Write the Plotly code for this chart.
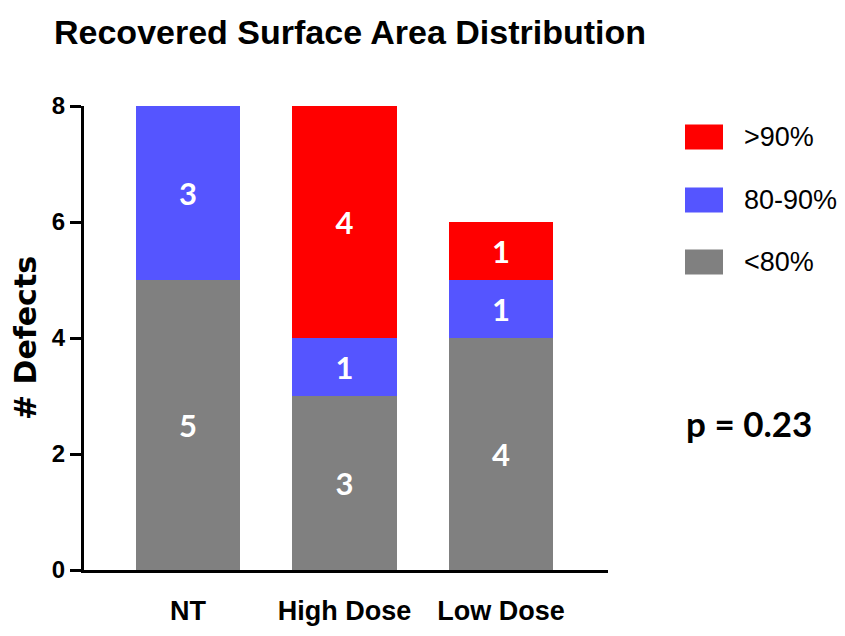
import plotly.graph_objects as go

categories = ["NT", "High Dose", "Low Dose"]
series_names = [">90%", "80-90%", "<80%"]
below80 = [5, 3, 4]
mid80_90 = [3, 1, 1]
above90 = [0, 4, 1]
y_ticks = [0, 2, 4, 6, 8]
colors = {"<80%": "#808080", "80-90%": "#5555FF", ">90%": "#FF0000"}
p_text = "p = 0.23"

# page body has an 8px margin; size the figure so the page fills the window exactly
OFF = 8
W, H = 845 - 2 * OFF, 636 - 2 * OFF
L, R, T, B = 84 - OFF, 608 - OFF, 106 - OFF, 570 - OFF

def fx(px):
    return (px - OFF - L) / (R - L)

def fy(py):
    return (B - (py - OFF)) / (B - T)

sans = "Liberation Sans, Arial, sans-serif"
lab_font = "Lato, Open Sans, sans-serif"

fig = go.Figure()
for name, vals in [("<80%", below80), ("80-90%", mid80_90), (">90%", above90)]:
    fig.add_trace(go.Bar(
        x=categories, y=vals, name=name,
        marker=dict(color=colors[name], line=dict(width=0)),
        text=[str(v) if v else "" for v in vals],
        textposition="inside", insidetextanchor="middle",
        textfont=dict(family=lab_font, size=31, color="white", weight="bold"),
        constraintext="none", width=0.665, showlegend=False,
    ))

fig.update_layout(
    barmode="stack",
    width=W, height=H,
    margin=dict(l=L, r=W - R, t=T, b=H - B, pad=0, autoexpand=False),
    plot_bgcolor="white", paper_bgcolor="white",
    title=dict(text="<b>Recovered Surface Area Distribution</b>", x=(54 - OFF) / W, xanchor="left",
               xref="container", y=1 - (32 - OFF) / H, yanchor="middle", yref="container",
               pad=dict(l=0, r=0, t=0, b=0),
               font=dict(family=sans, size=34, color="black")),
    uniformtext=dict(mode=False),
)
fig.update_xaxes(range=[-0.665, 2.684], showline=True, linecolor="black", linewidth=3,
                 ticks="", showgrid=False, zeroline=False, automargin=False,
                 tickfont=dict(family=sans, size=27, color="black", weight="bold"),
                 ticklabelstandoff=15)
fig.update_yaxes(range=[0, 8], tickvals=y_ticks, showline=True, linecolor="black", linewidth=3,
                 ticks="outside", ticklen=11, tickwidth=3, tickcolor="black",
                 showgrid=False, zeroline=False, automargin=False,
                 tickfont=dict(family=sans, size=24, color="black", weight="bold"),
                 title=dict(text="# Defects", standoff=10,
                            font=dict(family="DejaVu Sans, Liberation Sans", size=30, color="black", weight="bold")))

# custom legend (top to bottom)
legend_rows = [137, 200, 262]
for name, cy in zip(series_names, legend_rows):
    fig.add_shape(type="rect", xref="paper", yref="paper",
                  x0=fx(685), x1=fx(723), y0=fy(cy + 12.5), y1=fy(cy - 12.5),
                  fillcolor=colors[name], line=dict(width=0))
    fig.add_annotation(xref="paper", yref="paper", x=fx(742), y=fy(cy), text=name,
                       showarrow=False, xanchor="left", yanchor="middle",
                       font=dict(family=sans, size=27, color="black"))

fig.add_annotation(xref="paper", yref="paper", x=fx(684), y=fy(423), text=f"<b>{p_text}</b>",
                   showarrow=False, xanchor="left", yanchor="middle",
                   font=dict(family=lab_font, size=35, color="black"))

fig.write_html("out.html")
